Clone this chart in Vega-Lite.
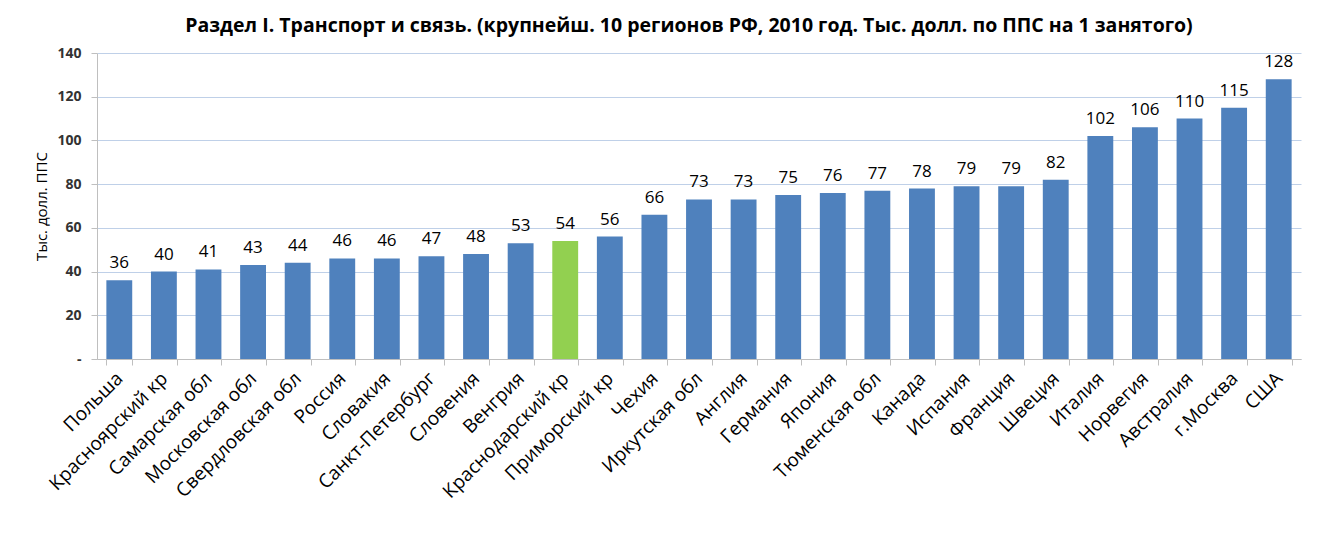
{
  "$schema": "https://vega.github.io/schema/vega-lite/v6.json",
  "width": 1204,
  "height": 306,
  "autosize": "none",
  "padding": {"left": 97, "top": 53, "right": 24, "bottom": 174},
  "background": "white",
  "title": {
    "text": "Раздел I. Транспорт и связь. (крупнейш. 10 регионов РФ, 2010 год. Тыс. долл. по ППС на 1 занятого)",
    "font": "Open Sans",
    "fontSize": 19.5,
    "fontWeight": "bold",
    "color": "#000000",
    "anchor": "middle",
    "offset": 10,
    "dx": -10
  },
  "data": {
    "values": [
      {"region": "Польша", "value": 36, "group": "other"},
      {"region": "Красноярский кр", "value": 40, "group": "other"},
      {"region": "Самарская обл", "value": 41, "group": "other"},
      {"region": "Московская обл", "value": 43, "group": "other"},
      {"region": "Свердловская обл", "value": 44, "group": "other"},
      {"region": "Россия", "value": 46, "group": "other"},
      {"region": "Словакия", "value": 46, "group": "other"},
      {"region": "Санкт-Петербург", "value": 47, "group": "other"},
      {"region": "Словения", "value": 48, "group": "other"},
      {"region": "Венгрия", "value": 53, "group": "other"},
      {"region": "Краснодарский кр", "value": 54, "group": "highlight"},
      {"region": "Приморский кр", "value": 56, "group": "other"},
      {"region": "Чехия", "value": 66, "group": "other"},
      {"region": "Иркутская обл", "value": 73, "group": "other"},
      {"region": "Англия", "value": 73, "group": "other"},
      {"region": "Германия", "value": 75, "group": "other"},
      {"region": "Япония", "value": 76, "group": "other"},
      {"region": "Тюменская обл", "value": 77, "group": "other"},
      {"region": "Канада", "value": 78, "group": "other"},
      {"region": "Испания", "value": 79, "group": "other"},
      {"region": "Франция", "value": 79, "group": "other"},
      {"region": "Швеция", "value": 82, "group": "other"},
      {"region": "Италия", "value": 102, "group": "other"},
      {"region": "Норвегия", "value": 106, "group": "other"},
      {"region": "Австралия", "value": 110, "group": "other"},
      {"region": "г.Москва", "value": 115, "group": "other"},
      {"region": "США", "value": 128, "group": "other"}
    ]
  },
  "encoding": {
    "x": {
      "field": "region",
      "type": "nominal",
      "sort": null,
      "scale": {"paddingInner": 0.42, "paddingOuter": 0.21},
      "axis": {
        "title": null,
        "labelAngle": -45,
        "labelAlign": "right",
        "labelBaseline": "middle",
        "labelFont": "Open Sans",
        "labelFontSize": 19,
        "labelColor": "#000000",
        "labelPadding": 10,
        "labelOverlap": false,
        "labelLimit": 400,
        "tickBand": "extent",
        "tickColor": "#BFBFBF",
        "tickSize": 6,
        "domainColor": "#BFBFBF",
        "grid": false
      }
    },
    "y": {
      "field": "value",
      "type": "quantitative",
      "scale": {"domain": [0, 140]},
      "axis": {
        "title": "Тыс. долл. ППС",
        "titleFont": "Open Sans",
        "titleFontSize": 15,
        "titleFontWeight": "normal",
        "titleColor": "#000000",
        "titlePadding": 7,
        "values": [0, 20, 40, 60, 80, 100, 120, 140],
        "labelExpr": "datum.value == 0 ? '-' : datum.label",
        "labelFont": "Open Sans",
        "labelFontSize": 14,
        "labelFontWeight": "bold",
        "labelColor": "#333333",
        "labelPadding": 10,
        "tickColor": "#BFBFBF",
        "tickSize": 6,
        "domainColor": "#BFBFBF",
        "gridColor": "#BFD0E8",
        "gridWidth": 1
      }
    }
  },
  "layer": [
    {
      "mark": {"type": "bar"},
      "encoding": {
        "color": {
          "field": "group",
          "type": "nominal",
          "scale": {"domain": ["other", "highlight"], "range": ["#4F81BD", "#92D050"]},
          "legend": null
        }
      }
    },
    {
      "mark": {"type": "text", "dy": -17, "font": "Open Sans", "fontSize": 17, "color": "#000000"},
      "encoding": {"text": {"field": "value", "type": "quantitative"}}
    }
  ],
  "config": {
    "view": {"stroke": null}
  }
}
